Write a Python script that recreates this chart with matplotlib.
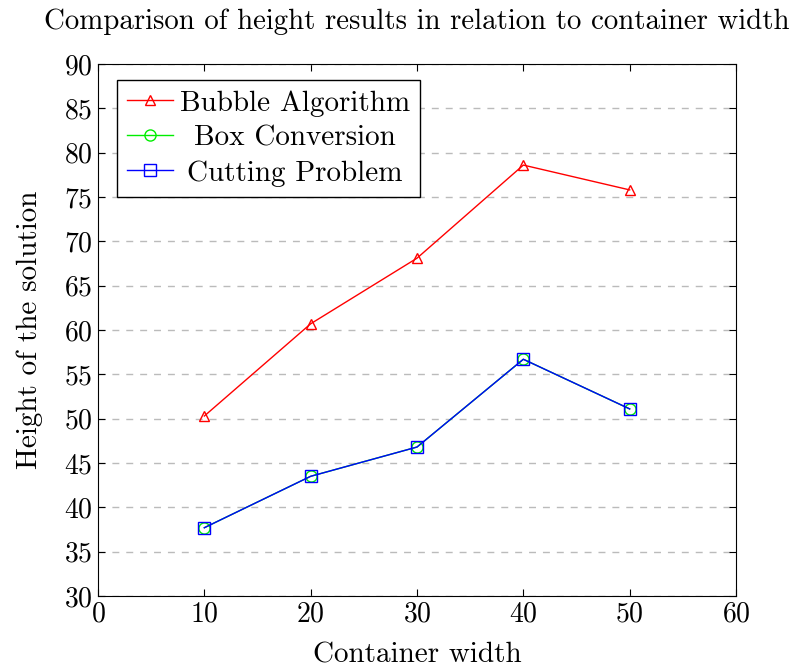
import matplotlib
matplotlib.use('Agg')
import matplotlib.pyplot as plt
from matplotlib.offsetbox import DrawingArea, HPacker

# container widths and resulting heights
widths = [10, 20, 30, 40, 50]
bubble = [50.3, 60.7, 68.1, 78.6, 75.8]
box_conv = [37.7, 43.5, 46.8, 56.7, 51.1]
cutting = [37.7, 43.5, 46.8, 56.7, 51.1]

x_ticks = [0, 10, 20, 30, 40, 50, 60]
y_ticks = [30, 35, 40, 45, 50, 55, 60, 65, 70, 75, 80, 85, 90]

plt.rcParams['font.family'] = ['cmr10', 'DejaVu Serif']
plt.rcParams['axes.formatter.use_mathtext'] = True
plt.rcParams['mathtext.fontset'] = 'cm'

fig = plt.figure(figsize=(7.94, 6.68), dpi=100)
ax = fig.add_axes([98 / 794, 72 / 668, 638 / 794, 532 / 668])

ax.plot(widths, bubble, color='red', lw=1, marker='^', ms=7, mfc='none',
        mew=1, label='Bubble Algorithm')
ax.plot(widths, box_conv, color='#00ee00', lw=1, marker='o', ms=8, mfc='none',
        mew=1, label='Box Conversion')
ax.plot(widths, cutting, color='blue', lw=1, marker='s', ms=9, mfc='none',
        mew=1, label='Cutting Problem')

ax.set_xlim(0, 60)
ax.set_ylim(30, 90)
ax.set_xticks(x_ticks)
ax.set_yticks(y_ticks)
ax.tick_params(direction='in', top=True, right=True, labelsize=20, length=5,
               pad=4)
ax.yaxis.grid(True, color='#bbbbbb', ls=(0, (5, 5)), lw=1)
ax.set_axisbelow(True)

ax.set_xlabel('Container width', fontsize=21, labelpad=10)
ax.set_ylabel('Height of the solution', fontsize=21, labelpad=15)
ax.set_title('Comparison of height results in relation to container width',
             fontsize=20.8, pad=25)

leg = ax.legend(loc='upper left', bbox_to_anchor=(0.030, 0.970), fontsize=21,
                fancybox=False, edgecolor='black', framealpha=1,
                handlelength=1.55, borderpad=0.35, labelspacing=0.29,
                handletextpad=0.25, borderaxespad=0)
leg.get_frame().set_linewidth(1)

# center the legend labels within their column
fig.canvas.draw()
text_w = [t.get_window_extent().width for t in leg.get_texts()]
max_w = max(text_w)
rows = leg._legend_handle_box.get_children()[0].get_children()
for row, w in zip(rows, text_w):
    handle, text = row.get_children()
    shift = (max_w - w) / 2 * 72 / fig.dpi
    pad = HPacker(children=[DrawingArea(shift, 0), text], sep=0, pad=0,
                  align='baseline')
    row._children = [handle, pad]

fig.savefig('out.png', dpi=100)
